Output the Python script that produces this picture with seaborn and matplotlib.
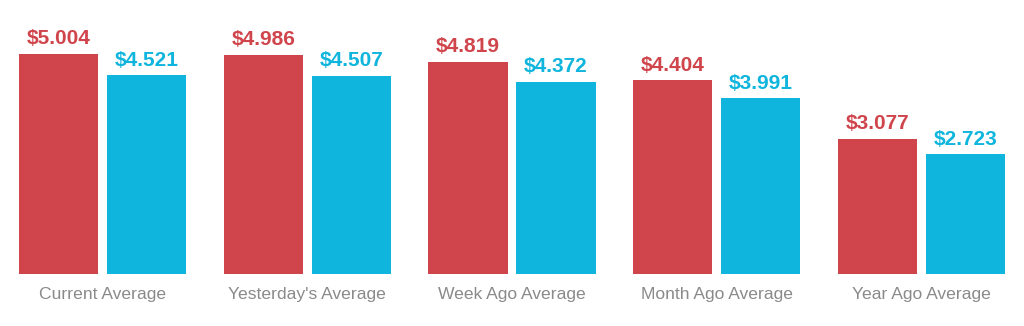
import matplotlib
matplotlib.use("Agg")
import matplotlib.pyplot as plt
import seaborn as sns
import pandas as pd

categories = ["Current Average", "Yesterday's Average", "Week Ago Average",
              "Month Ago Average", "Year Ago Average"]
series_names = ["Series A", "Series B"]
series_a = [5.004, 4.986, 4.819, 4.404, 3.077]
series_b = [4.521, 4.507, 4.372, 3.991, 2.723]
colors = ["#D0454C", "#0FB5DC"]

df = pd.DataFrame({
    "category": categories * 2,
    "series": [series_names[0]] * len(categories) + [series_names[1]] * len(categories),
    "value": series_a + series_b,
})

sns.set_theme(style="white")
plt.rcParams['font.family'] = ['Liberation Sans', 'DejaVu Sans']

fig = plt.figure(figsize=(10.24, 3.26), dpi=100)
ax = fig.add_axes([0, 52 / 326, 1, (274 - 10) / 326])

sns.barplot(data=df, x="category", y="value", hue="series", order=categories,
            hue_order=series_names, palette=colors, width=0.86, gap=0.1,
            saturation=1, ax=ax, legend=False, linewidth=0)

for container, col in zip(ax.containers, colors):
    ax.bar_label(container, labels=[f"${v.get_height():.3f}" for v in container],
                 padding=4, color=col, fontsize=15, fontweight="bold")

ax.set_xlim(-0.5, 4.5)
ax.set_ylim(0, 6)
ax.set_xlabel("")
ax.set_ylabel("")
ax.set_yticks([])
for s in ax.spines.values():
    s.set_visible(False)
ax.tick_params(axis="x", length=0, pad=9, labelsize=12.6, labelcolor="#8a8a8a")

fig.savefig("out.png", dpi=100, facecolor="white")
